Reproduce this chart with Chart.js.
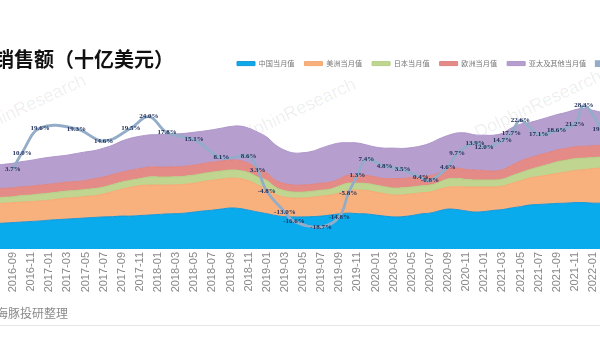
<!DOCTYPE html>
<html><head><meta charset="utf-8">
<script src="https://cdn.jsdelivr.net/npm/chart.js@4.4.1/dist/chart.umd.min.js"></script>
<style>
html,body{margin:0;padding:0;background:#fff;}
#wrap{position:relative;width:600px;height:356px;overflow:hidden;background:#fff;}
#c{position:absolute;left:-40px;top:0;}
.wm{position:absolute;font:18px/20px "Liberation Sans";color:rgba(0,0,0,0.07);white-space:nowrap;transform:translate(-50%,-50%) rotate(-25deg);}
#title{position:absolute;left:-6px;top:48px;font:bold 20px/22px "Noto Sans CJK SC";color:#111;white-space:nowrap;}
#src{position:absolute;left:-4px;top:305px;font:12px/16px "Noto Sans CJK SC";color:#8a8a8a;white-space:nowrap;}
#rule{position:absolute;left:0;top:325px;width:600px;height:1px;background:#e6e6e6;}
</style></head>
<body><div id="wrap">
<div class="wm" style="left:22px;top:108px;">DolphinResearch</div>
<div class="wm" style="left:292px;top:112px;">DolphinResearch</div>
<div class="wm" style="left:538px;top:104px;">DolphinResearch</div>
<canvas id="c" width="680" height="356"></canvas>
<div id="title">销售额（十亿美元）</div><div id="src">海豚投研整理</div><div id="rule"></div></div>
<script>
const months = ['2016-07','2016-08','2016-09','2016-10','2016-11','2016-12',
'2017-01','2017-02','2017-03','2017-04','2017-05','2017-06','2017-07','2017-08','2017-09','2017-10','2017-11','2017-12',
'2018-01','2018-02','2018-03','2018-04','2018-05','2018-06','2018-07','2018-08','2018-09','2018-10','2018-11','2018-12',
'2019-01','2019-02','2019-03','2019-04','2019-05','2019-06','2019-07','2019-08','2019-09','2019-10','2019-11','2019-12',
'2020-01','2020-02','2020-03','2020-04','2020-05','2020-06','2020-07','2020-08','2020-09','2020-10','2020-11','2020-12',
'2021-01','2021-02','2021-03','2021-04','2021-05','2021-06','2021-07','2021-08','2021-09','2021-10','2021-11','2021-12',
'2022-01','2022-02','2022-03'];

const seriesNames = ['中国当月值','美洲当月值','日本当月值','欧洲当月值','亚太及其他当月值','同比增速'];

const china = [9.4,9.6,9.8,10.0,10.2,10.4,10.7,10.9,11.1,11.3,11.5,11.7,11.9,12.0,12.2,12.2,12.4,12.6,12.8,13.0,13.1,13.3,13.7,14.1,14.4,14.8,15.2,15.0,14.4,13.7,13.1,12.4,12.0,11.9,11.9,12.0,12.2,12.6,13.0,13.3,13.1,13.0,12.6,12.2,11.9,12.0,12.4,13.0,13.3,14.1,14.8,14.6,14.1,13.7,13.9,14.3,14.6,15.2,15.7,16.3,16.5,16.7,16.9,17.0,17.2,17.2,17.0,17.0,17.0];
const americas = [7.4,7.4,7.4,7.4,7.4,7.4,7.4,7.6,7.8,7.8,8.0,8.1,8.5,9.3,10.0,10.7,11.1,11.1,10.9,10.7,10.7,10.7,10.7,10.9,11.1,11.1,11.1,11.1,10.9,10.0,9.3,7.8,7.2,7.0,7.0,7.2,7.4,7.4,7.8,8.5,8.7,8.7,8.5,8.3,8.1,8.1,8.0,7.8,7.8,8.0,8.1,8.5,8.9,9.3,9.1,8.7,8.7,9.1,9.6,10.0,10.4,10.7,11.1,11.5,11.9,12.2,12.8,13.0,13.0];
const japan = [2.2,2.2,2.2,2.4,2.4,2.6,2.6,2.6,2.6,2.6,2.6,2.6,2.6,2.6,2.6,2.6,2.6,3.0,3.0,3.0,3.0,3.0,3.0,3.0,3.0,3.0,3.0,3.0,3.0,3.0,3.0,2.6,2.4,2.2,2.2,2.2,2.2,2.2,2.6,2.6,2.6,2.6,2.6,2.6,2.6,2.6,2.6,2.6,2.6,2.6,3.1,3.0,2.8,2.6,2.6,2.6,2.6,2.8,3.0,3.1,3.5,3.9,4.3,4.4,4.4,4.3,4.1,4.1,4.1];
const europe = [3.3,3.3,3.3,3.3,3.3,3.3,3.3,3.3,3.3,3.3,3.3,3.7,3.7,3.7,3.7,3.7,3.7,3.7,3.7,3.7,3.7,3.7,3.7,3.7,3.7,3.7,3.7,3.7,3.5,3.1,2.8,2.6,2.6,2.6,2.6,2.6,2.6,2.6,2.6,3.0,3.0,3.0,3.0,3.0,3.5,3.5,3.5,3.5,3.5,3.5,3.9,3.9,3.7,3.7,3.5,3.3,3.5,3.9,4.3,4.4,4.4,4.4,4.4,4.4,4.4,4.4,4.4,4.4,4.4];
const apo = [8.7,8.9,9.1,9.3,9.6,9.8,10.0,10.0,10.0,10.4,10.6,10.4,10.7,10.9,11.5,11.9,12.0,11.9,12.0,12.2,12.2,12.2,12.2,12.0,12.0,12.2,12.4,12.8,13.0,13.5,13.3,13.1,12.4,11.9,12.0,12.2,13.0,13.7,13.3,12.0,11.9,11.3,11.1,11.3,11.3,11.1,11.1,11.3,12.0,12.6,12.2,13.0,13.5,13.0,13.1,13.3,13.5,13.9,13.7,13.1,13.0,13.1,13.1,13.3,13.7,14.1,13.1,12.2,11.9];
const growth = [null,null,3.7,10.0,null,19.6,null,null,null,19.3,null,null,14.6,null,null,19.5,null,24.0,null,17.8,null,null,15.1,null,null,8.1,null,null,8.6,3.3,-4.8,null,-13.0,-16.6,null,null,-18.7,null,-14.8,-5.8,1.3,7.4,null,4.8,null,3.5,null,0.4,-0.8,null,4.6,9.7,null,13.9,12.0,null,14.7,17.7,22.6,null,17.1,null,18.6,null,21.2,28.3,null,19.2,null];

const areaColors = ['#0aabec','#f8b07c','#bfd590','#e48b88','#b69fcf'];
const areaBorders = ['#1a95d6','#f5a873','#b5cf85','#df8380','#ad95c8'];
const lineColor = '#93adc9';

const legendShift = {
  id: 'legendShift',
  afterLayout(chart) {
    const l = chart.legend;
    if (!l) return;
    const dx = 267 - l.left;
    l.left += dx; l.right += dx;
  }
};
const lineLabels = {
  id: 'lineLabels',
  afterDatasetsDraw(chart) {
    const meta = chart.getDatasetMeta(5);
    const ctx = chart.ctx;
    ctx.save();
    ctx.font = 'bold 7px "Liberation Serif"';
    ctx.fillStyle = '#22305a';
    ctx.textAlign = 'center';
    ctx.textBaseline = 'middle';
    meta.data.forEach((pt, i) => {
      const v = growth[i];
      if (v === null) return;
      ctx.fillText(v.toFixed(1) + '%', pt.x, pt.y);
    });
    ctx.restore();
  }
};

const areaData = [china, americas, japan, europe, apo];
const datasets = areaData.map((d, i) => ({
  label: seriesNames[i], data: d,
  backgroundColor: areaColors[i], borderColor: areaBorders[i], borderWidth: 1,
  fill: i === 0 ? 'origin' : '-1', yAxisID: 'y', tension: 0.4, pointRadius: 0
}));
datasets.push({
  label: seriesNames[5], data: growth, yAxisID: 'y1',
  borderColor: lineColor, backgroundColor: lineColor, borderWidth: 2.8,
  fill: false, spanGaps: true, tension: 0.4, pointRadius: 0, order: -1
});

new Chart(document.getElementById('c'), {
  type: 'line',
  data: { labels: months, datasets },
  options: {
    responsive: false, animation: false,
    layout: { padding: { left: 34.875, right: 28.9, top: 50, bottom: 57 } },
    plugins: {
      legend: {
        position: 'top', align: 'start',
        labels: {
          boxWidth: 18, boxHeight: 4, padding: 10, color: '#777',
          font: { size: 7.2, family: '"Noto Sans CJK SC"' },
          sort: (a, b) => a.datasetIndex - b.datasetIndex
        }
      },
      title: { display: false },
      tooltip: { enabled: false }
    },
    scales: {
      x: {
        grid: { display: false, drawTicks: false },
        border: { display: false },
        ticks: {
          autoSkip: false, maxRotation: 90, minRotation: 90, padding: 3,
          color: '#888', font: { size: 11, family: '"Liberation Sans"' },
          callback: function (v, i) { const l = months[i]; return (parseInt(l.slice(5), 10) % 2 === 1) ? l : ''; }
        },
        afterFit: (s) => { s.height = 50; }
      },
      y: { display: false, stacked: true, min: 0, max: 63.7 },
      y1: { display: false, stacked: false, min: -27.3, max: 39.3 }
    }
  },
  plugins: [legendShift, lineLabels]
});
</script>
</body></html>
